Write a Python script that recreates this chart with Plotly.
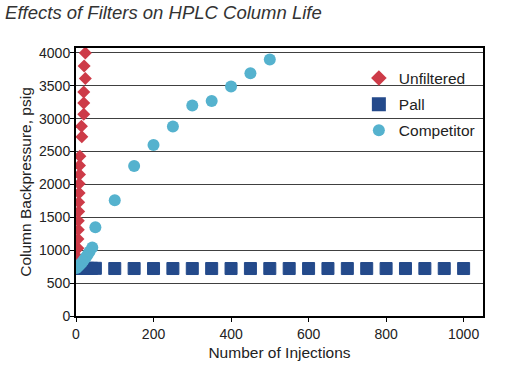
import plotly.graph_objects as go

# Unfiltered (red diamonds)
unf_x = [2, 3, 4, 5, 5, 6, 6, 7, 7, 8, 8, 9, 9, 10, 15, 14, 20, 20, 20, 24, 21, 24]
unf_y = [740, 800, 890, 1030, 1170, 1310, 1450, 1590, 1730, 1870, 2010, 2150, 2290, 2430,
         2724, 2885, 3068, 3240, 3406, 3610, 3800, 4000]

# Pall (dark blue squares)
pall_x = [1, 10, 20, 30, 40, 50, 100, 150, 200, 250, 300, 350, 400, 450, 500, 550, 600,
          650, 700, 750, 800, 850, 900, 950, 1000]
pall_y = [725, 725, 725, 725, 725, 725, 722, 722, 722, 722, 722, 722, 722, 722, 722, 722,
          722, 722, 722, 722, 722, 722, 722, 722, 722]

# Competitor (light blue circles)
comp_x = [1, 5, 10, 15, 20, 25, 30, 35, 42, 50, 100, 150, 200, 250, 300, 350, 400, 450, 500]
comp_y = [730, 750, 780, 810, 850, 890, 930, 980, 1040, 1350, 1760, 2280, 2600, 2880, 3200,
          3270, 3490, 3690, 3900]

y_ticks = [0, 500, 1000, 1500, 2000, 2500, 3000, 3500, 4000]
x_ticks = [0, 200, 400, 600, 800, 1000]

FONT = "Liberation Sans, Arial, sans-serif"

fig = go.Figure()
fig.add_trace(go.Scatter(x=unf_x, y=unf_y, mode="markers", name="Unfiltered", legendgroup="a",
                         marker=dict(symbol="diamond", size=10, color="#cd3b48")))
fig.add_trace(go.Scatter(x=pall_x, y=pall_y, mode="markers", name="Pall", legendgroup="b",
                         marker=dict(symbol="square", size=12, color="#244a8b",
                                     line=dict(width=1, color="#244a8b"))))
fig.add_trace(go.Scatter(x=comp_x, y=comp_y, mode="markers", name="Competitor", legendgroup="c",
                         marker=dict(symbol="circle", size=12, color="#55b2ce")))

fig.update_layout(
    width=508, height=365,
    margin=dict(l=76, r=25, t=48, b=49),
    paper_bgcolor="white", plot_bgcolor="white",
    font=dict(family=FONT, size=14, color="#222"),
    title=dict(text="<i>Effects of Filters on HPLC Column Life</i>", x=0.01, xanchor="left",
               y=0.965, yanchor="middle", font=dict(size=18.5, color="#333")),
    legend=dict(x=0.695, y=0.95, xanchor="left", yanchor="top", bgcolor="rgba(0,0,0,0)",
                font=dict(size=15.5, color="#222"), itemsizing="constant",
                traceorder="grouped", tracegroupgap=3, itemwidth=30),
    showlegend=True,
)
fig.update_xaxes(range=[0, 1050], tickvals=x_ticks, showgrid=False, zeroline=False,
                 showline=True, linecolor="black", linewidth=2, mirror=True,
                 ticks="outside", ticklen=4, tickcolor="black", automargin=False,
                 title=dict(text="Number of Injections", standoff=6, font=dict(size=15.5)))
fig.update_yaxes(range=[0, 4075], tickvals=y_ticks, showgrid=True, gridcolor="#404040",
                 gridwidth=1, zeroline=False,
                 showline=True, linecolor="black", linewidth=2, mirror=True,
                 ticks="outside", ticklen=4, tickcolor="black", automargin=False,
                 ticklabelstandoff=-3,
                 title=dict(text="Column Backpressure, psig", standoff=4, font=dict(size=15.5)))

fig.write_html("out.html", post_script="document.body.style.margin='0px';",
               config={"displayModeBar": False})
